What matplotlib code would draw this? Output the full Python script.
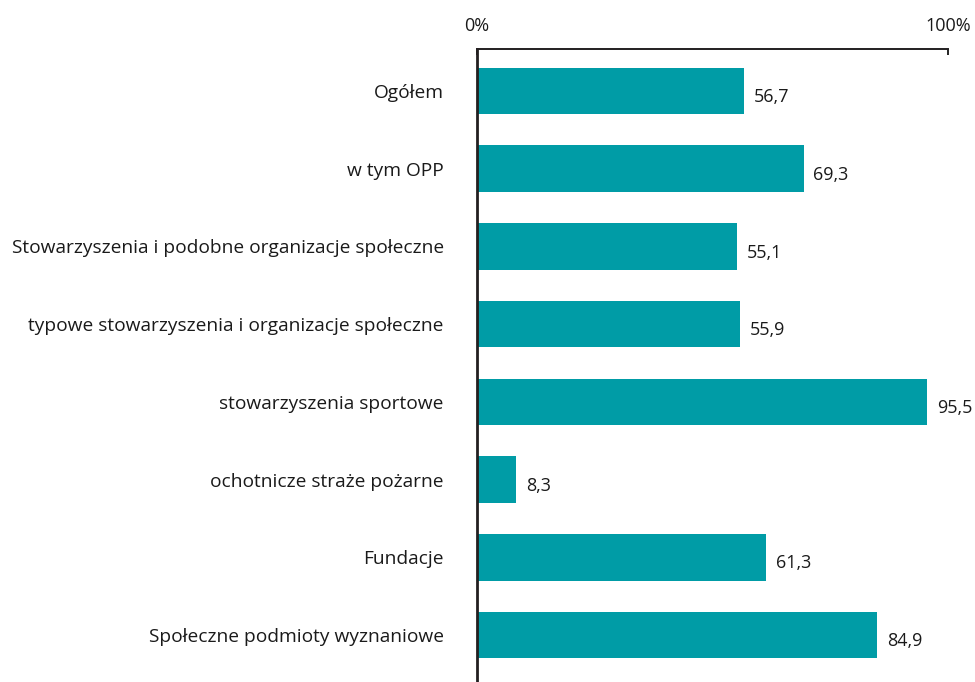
import matplotlib
matplotlib.use("Agg")
import matplotlib.pyplot as plt

# dane
kategorie = ["Ogółem", "w tym OPP", "Stowarzyszenia i podobne organizacje społeczne",
             "typowe stowarzyszenia i organizacje społeczne", "stowarzyszenia sportowe",
             "ochotnicze straże pożarne", "Fundacje", "Społeczne podmioty wyznaniowe"]
wartosci = [56.7, 69.3, 55.1, 55.9, 95.5, 8.3, 61.3, 84.9]
etykiety_osi = ["0%", "100%"]

plt.rcParams['font.family'] = ['Open Sans', 'DejaVu Sans']
kolor = '#009ca6'

fig = plt.figure(figsize=(9.75, 6.82), dpi=100)
ax = fig.add_axes([477/975, 0, 1 - 477/975, 1 - 49/682])

y = list(range(len(kategorie)))
ax.barh(y, wartosci, height=0.6, color=kolor)

for yi, v in zip(y, wartosci):
    ax.text(v + 2.1, yi + 0.08, "{:.1f}".format(v).replace(".", ","),
            va='center', ha='left', fontsize=13, color='#1a1a1a')

ax.set_xlim(0, 105.7)
ax.set_ylim(7.605, -0.54)

ax.set_yticks(y)
ax.set_yticklabels(kategorie, fontsize=13.8, color='#1a1a1a')
ax.tick_params(axis='y', length=0, pad=24)

ax.xaxis.tick_top()
ax.set_xticks([0, 100])
ax.set_xticklabels(etykiety_osi, fontsize=13, color='#1a1a1a')
ax.tick_params(axis='x', direction='in', length=4, width=1.2, pad=10)

ax.spines['right'].set_visible(False)
ax.spines['bottom'].set_visible(False)
ax.spines['top'].set_bounds(0, 100)
ax.spines['top'].set_linewidth(1.4)
ax.spines['left'].set_linewidth(2)
ax.spines['left'].set_color('#231f20')
ax.spines['top'].set_color('#231f20')

fig.savefig("out.png", dpi=100)
